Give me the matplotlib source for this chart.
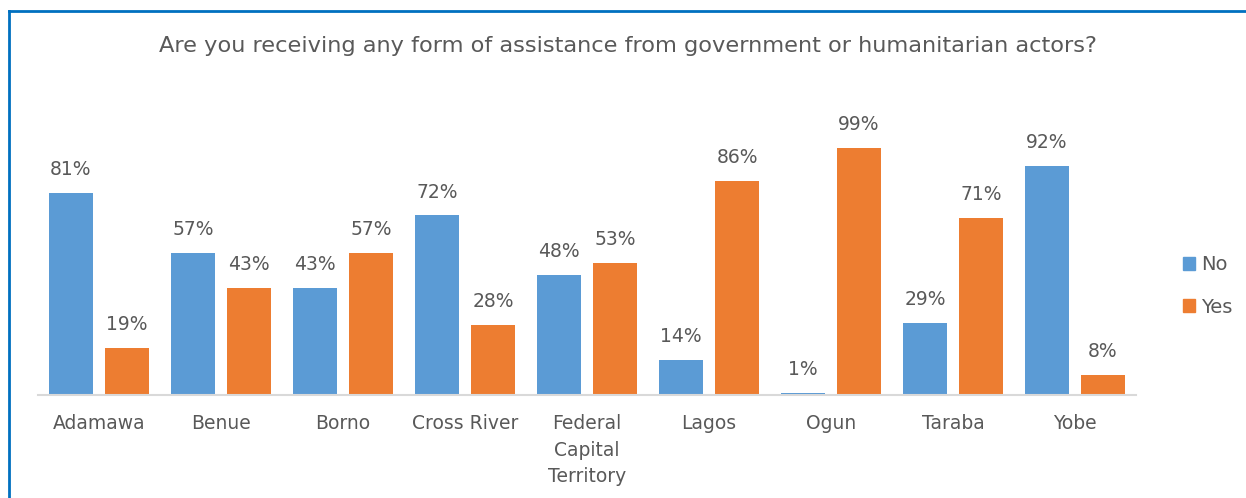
import matplotlib
matplotlib.use("Agg")
import matplotlib.pyplot as plt
import numpy as np
from matplotlib.lines import Line2D
from matplotlib.patches import Patch

categories = ["Adamawa", "Benue", "Borno", "Cross River", "Federal\nCapital\nTerritory",
              "Lagos", "Ogun", "Taraba", "Yobe"]
no_vals = [81, 57, 43, 72, 48, 14, 1, 29, 92]
yes_vals = [19, 43, 57, 28, 53, 86, 99, 71, 8]
title = "Are you receiving any form of assistance from government or humanitarian actors?"

BLUE = "#5B9BD5"
ORANGE = "#ED7D31"
TXT = "#595959"

W, H = 1246, 498
fig = plt.figure(figsize=(W / 100, H / 100), dpi=100)
plt.rcParams['font.family'] = ['DejaVu Sans']

left, right = 38, 1136
bottom = 395
ymax = 110
ppu = 2.494
top = bottom - ymax * ppu
ax = fig.add_axes([left / W, (H - bottom) / H, (right - left) / W, (bottom - top) / H])

x = np.arange(len(categories))
bw = 0.36
off = 0.23
b1 = ax.bar(x - off, no_vals, bw, color=BLUE, label="No")
b2 = ax.bar(x + off, yes_vals, bw, color=ORANGE, label="Yes")
for bars, vals in ((b1, no_vals), (b2, yes_vals)):
    for r, v in zip(bars, vals):
        ax.annotate(f"{v}%", (r.get_x() + r.get_width() / 2, v), xytext=(0, 10),
                    textcoords="offset points", ha="center", va="bottom",
                    fontsize=13.5, color=TXT)

ax.set_xlim(-0.5, len(categories) - 0.5)
ax.set_ylim(0, ymax)
ax.set_xticks(x)
ax.set_xticklabels(categories, fontsize=13.5, color=TXT, linespacing=1.5, va="top")
ax.tick_params(axis="x", length=0, pad=14)
ax.set_yticks([])
for s in ["top", "right", "left"]:
    ax.spines[s].set_visible(False)
ax.spines["bottom"].set_color("#D9D9D9")
ax.spines["bottom"].set_linewidth(1.5)

fig.text(628 / W, 1 - 46 / H, title, ha="center", va="center", fontsize=16.2, color=TXT)

handles = [Patch(color=BLUE, label="No"), Patch(color=ORANGE, label="Yes")]
fig.legend(handles=handles, loc="center left", bbox_to_anchor=(1165 / W, 1 - 286 / H),
           frameon=False, fontsize=14, labelcolor=TXT, handlelength=0.65, handleheight=0.65,
           handletextpad=0.3, labelspacing=1.2)

fig.add_artist(Line2D([9 / W, 9 / W], [0, 1 - 11 / H], transform=fig.transFigure,
                      color="#0070C0", linewidth=2.0))
fig.add_artist(Line2D([9 / W, 1], [1 - 11 / H, 1 - 11 / H], transform=fig.transFigure,
                      color="#0070C0", linewidth=2.0))

fig.savefig("out.png", dpi=100)
